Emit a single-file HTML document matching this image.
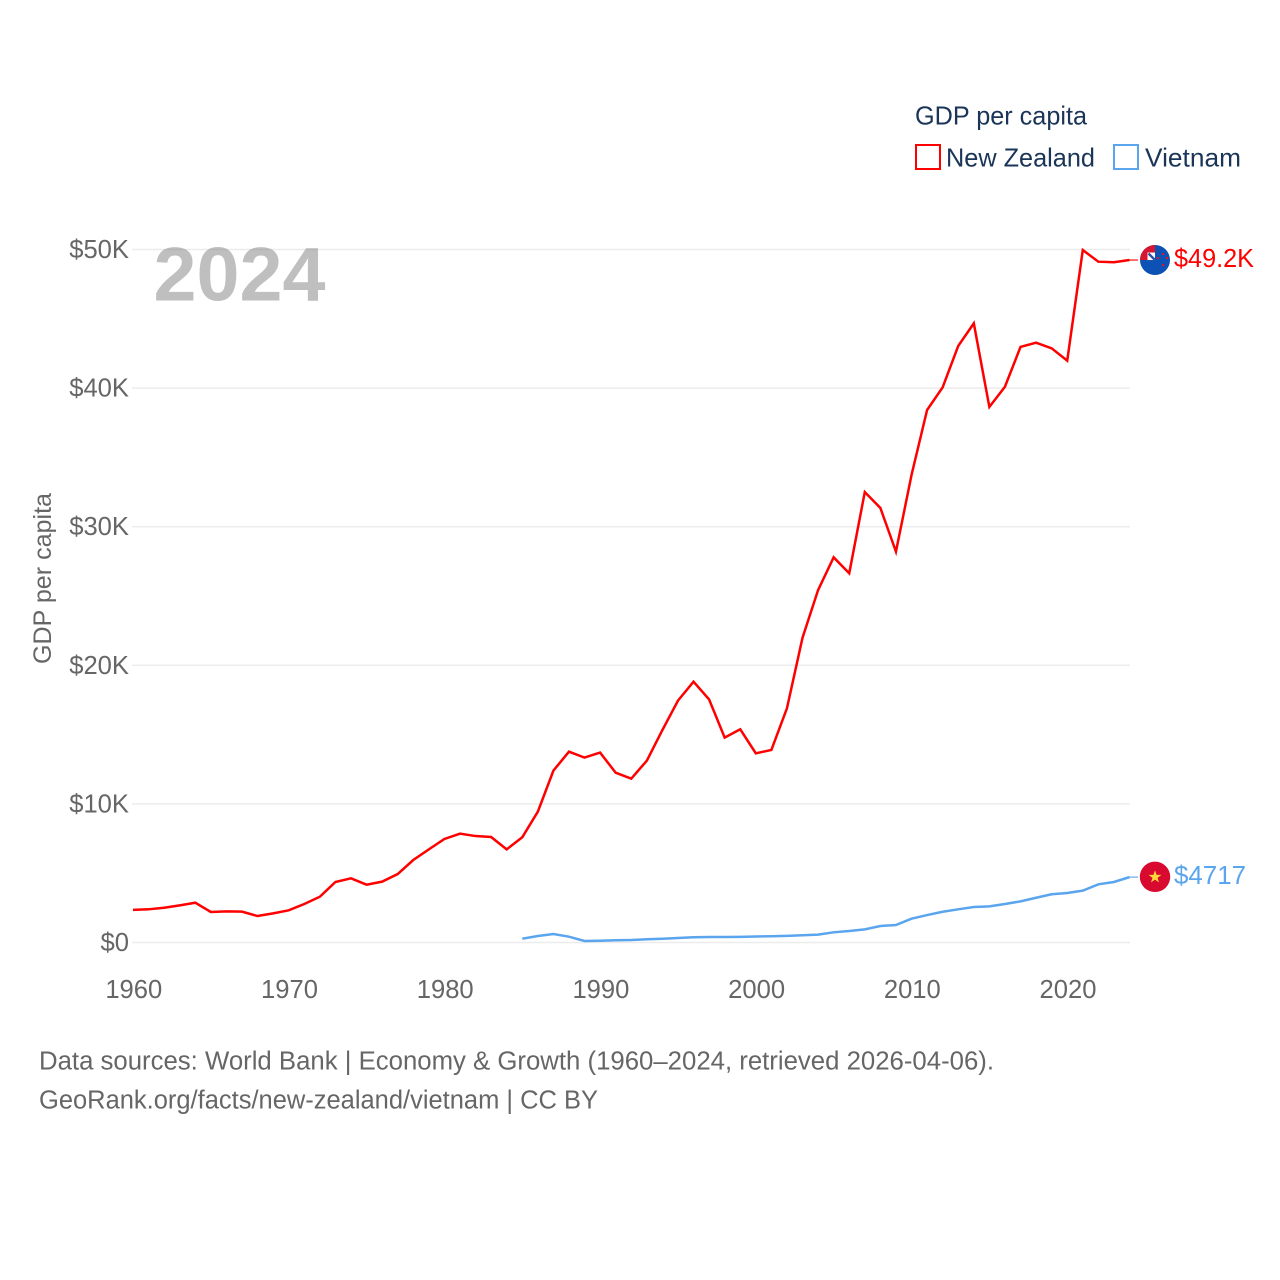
<!DOCTYPE html>
<html lang="en">
<head>
<meta charset="utf-8">
<title>GDP per capita: New Zealand and Vietnam</title>
<style>
  html, body { margin: 0; padding: 0; background: #fff; }
  svg { display: block; font-family: "Liberation Sans", sans-serif; }
</style>
</head>
<body>
<svg id="chart" xmlns="http://www.w3.org/2000/svg" width="1280" height="1280" viewBox="0 0 1280 1280">
  <defs>
    <clipPath id="nz-clip"><circle cx="0" cy="0" r="15"></circle></clipPath>
  </defs>
  <rect width="1280" height="1280" fill="#ffffff"></rect>
  <g id="grid-layer"></g>
  <text x="153.5" y="300.5" font-size="76" font-weight="700" fill="#808080" fill-opacity="0.5" textLength="172" lengthAdjust="spacingAndGlyphs">2024</text>
  <g id="tick-layer"></g>
  <text transform="translate(51 664) rotate(-90)" font-size="25" fill="#666666" textLength="171" lengthAdjust="spacingAndGlyphs">GDP per capita</text>
  <g id="series-layer"></g>

  <g>
    <text x="915" y="124.5" font-size="26" fill="#1a3557" textLength="172" lengthAdjust="spacingAndGlyphs">GDP per capita</text>
    <g>
      <rect x="916" y="145" width="24" height="24" fill="none" stroke="#ff0000" stroke-width="2"></rect>
      <text x="946" y="166.5" font-size="26" fill="#1a3557" textLength="149" lengthAdjust="spacingAndGlyphs">New Zealand</text>
    </g>
    <g>
      <rect x="1114" y="145" width="24" height="24" fill="none" stroke="#5aa5ee" stroke-width="2"></rect>
      <text x="1145" y="166.5" font-size="26" fill="#1a3557" textLength="96" lengthAdjust="spacingAndGlyphs">Vietnam</text>
    </g>
  </g>

  <g id="flag-layer"></g>

  <text x="39" y="1069.5" font-size="25.5" fill="#666666" textLength="955" lengthAdjust="spacingAndGlyphs">Data sources: World Bank | Economy &amp; Growth (1960–2024, retrieved 2026-04-06).</text>
  <text x="39" y="1108.5" font-size="25.5" fill="#666666" textLength="559" lengthAdjust="spacingAndGlyphs">GeoRank.org/facts/new-zealand/vietnam | CC BY</text>
</svg>

<script>
const yearTicks = [1960, 1970, 1980, 1990, 2000, 2010, 2020];
const valueTicks = [0, 10000, 20000, 30000, 40000, 50000];
const valueTickLabels = ["$0", "$10K", "$20K", "$30K", "$40K", "$50K"];

const nzYears = [1960,1961,1962,1963,1964,1965,1966,1967,1968,1969,1970,1971,1972,1973,1974,1975,1976,1977,1978,1979,1980,1981,1982,1983,1984,1985,1986,1987,1988,1989,1990,1991,1992,1993,1994,1995,1996,1997,1998,1999,2000,2001,2002,2003,2004,2005,2006,2007,2008,2009,2010,2011,2012,2013,2014,2015,2016,2017,2018,2019,2020,2021,2022,2023,2024];
const nzValues = [2350,2395,2510,2680,2870,2200,2250,2225,1910,2100,2320,2780,3300,4365,4630,4170,4390,4940,5950,6720,7470,7850,7680,7610,6720,7590,9440,12400,13770,13340,13700,12250,11820,13120,15330,17450,18820,17540,14780,15380,13650,13890,16900,21990,25430,27790,26640,32500,31350,28200,33730,38420,40060,43040,44670,38640,40100,42970,43280,42870,41980,49960,49120,49080,49240];
const nzEndLabel = "$49.2K";

const vnYears = [1985,1986,1987,1988,1989,1990,1991,1992,1993,1994,1995,1996,1997,1998,1999,2000,2001,2002,2003,2004,2005,2006,2007,2008,2009,2010,2011,2012,2013,2014,2015,2016,2017,2018,2019,2020,2021,2022,2023,2024];
const vnValues = [275,470,610,420,110,130,160,180,230,275,325,375,397,397,410,433,450,480,520,570,735,830,950,1190,1260,1720,1980,2220,2395,2560,2610,2780,2970,3230,3480,3570,3740,4200,4365,4717];
const vnEndLabel = "$4717";

const SVG_NS = "http://www.w3.org/2000/svg";
const xScale = function (year) { return 133 + (year - 1960) * (1129.5 - 133) / 64; };
const yScale = function (value) { return 942.5 - value * (942.5 - 249.5) / 50000; };

function svgEl(tag, attrs, parent) {
  const el = document.createElementNS(SVG_NS, tag);
  Object.keys(attrs).forEach(function (k) { el.setAttribute(k, attrs[k]); });
  parent.appendChild(el);
  return el;
}

const gridLayer = document.getElementById("grid-layer");
const tickLayer = document.getElementById("tick-layer");
const seriesLayer = document.getElementById("series-layer");
const flagLayer = document.getElementById("flag-layer");

valueTicks.forEach(function (v, i) {
  const line = svgEl("line", { x1: 132, x2: 1130, y1: yScale(v), y2: yScale(v), stroke: "#ececec", "stroke-width": 1.5 }, gridLayer);
  
  
  const label = svgEl("text", { x: 129, y: yScale(v) + 8.5, "text-anchor": "end", "font-size": 25.6, fill: "#666666" }, tickLayer);
  
  
  label.textContent = valueTickLabels[i];
});

yearTicks.forEach(function (y) {
  const label = svgEl("text", { x: xScale(y) + 0.8, y: 998, "text-anchor": "middle", "font-size": 25.6, fill: "#666666" }, tickLayer);
  
  
  label.textContent = String(y);
});

function pathFor(years, values) {
  return years.map(function (y, i) {
    return (i ? "L" : "M") + xScale(y).toFixed(2) + " " + yScale(values[i]).toFixed(2);
  }).join(" ");
}

const nzLine = svgEl("path", { d: pathFor(nzYears, nzValues), fill: "none", stroke: "#ff0000", "stroke-width": 2.5, "stroke-linejoin": "miter" }, seriesLayer);



const vnLine = svgEl("path", { d: pathFor(vnYears, vnValues), fill: "none", stroke: "#5aa5ee", "stroke-width": 2.5, "stroke-linejoin": "miter" }, seriesLayer);



const nzLast = nzValues[nzValues.length - 1];
const vnLast = vnValues[vnValues.length - 1];
const nzEndY = yScale(nzLast);
const vnEndY = yScale(vnLast);

const nzLeader = svgEl("line", { x1: xScale(2024), x2: 1138, y1: nzEndY, y2: nzEndY, stroke: "#ff0000", "stroke-width": 1.4, "stroke-opacity": 0.8 }, flagLayer);



const vnLeader = svgEl("line", { x1: xScale(2024), x2: 1138, y1: vnEndY, y2: vnEndY, stroke: "#5aa5ee", "stroke-width": 1.4, "stroke-opacity": 0.8 }, flagLayer);



/* New Zealand flag marker */
const nzFlag = svgEl("g", { transform: "translate(1155 " + nzEndY + ")", "clip-path": "url(#nz-clip)" }, flagLayer);


svgEl("rect", { x: -16, y: -16, width: 32, height: 32, fill: "#0b52b4" }, nzFlag);
svgEl("rect", { x: -16, y: -16, width: 16, height: 16, fill: "#d8152f" }, nzFlag);
svgEl("rect", { x: -7.5, y: -7.5, width: 7.5, height: 7.5, fill: "#ffffff" }, nzFlag);
svgEl("path", { d: "M-6.5 -6.5 L0 0", stroke: "#2a4fa8", "stroke-width": 2.4, fill: "none" }, nzFlag);
[[8, -6], [3, -2], [12, -2], [8, 5]].forEach(function (p) {
  svgEl("circle", { cx: p[0], cy: p[1], r: 1.2, fill: "#e8112d" }, nzFlag);
});

/* Vietnam flag marker */
const vnFlag = svgEl("g", { transform: "translate(1155 " + (vnEndY - 0.3) + ")" }, flagLayer);


svgEl("circle", { cx: 0, cy: 0, r: 15.2, fill: "#d90a2f" }, vnFlag);
svgEl("polygon", { points: "0,-6.5 1.6,-1.9 6.4,-1.9 2.5,1 4,5.6 0,2.8 -4,5.6 -2.5,1 -6.4,-1.9 -1.6,-1.9", fill: "#ffd83a" }, vnFlag);

const nzValueLabel = svgEl("text", { x: 1174, y: nzEndY + 7, "font-size": 26, fill: "#ff0000", textLength: 80, lengthAdjust: "spacingAndGlyphs" }, flagLayer);


nzValueLabel.textContent = nzEndLabel;

const vnValueLabel = svgEl("text", { x: 1174, y: vnEndY + 7, "font-size": 26, fill: "#5aa5ee", textLength: 72, lengthAdjust: "spacingAndGlyphs" }, flagLayer);


vnValueLabel.textContent = vnEndLabel;
</script>
</body>
</html>
